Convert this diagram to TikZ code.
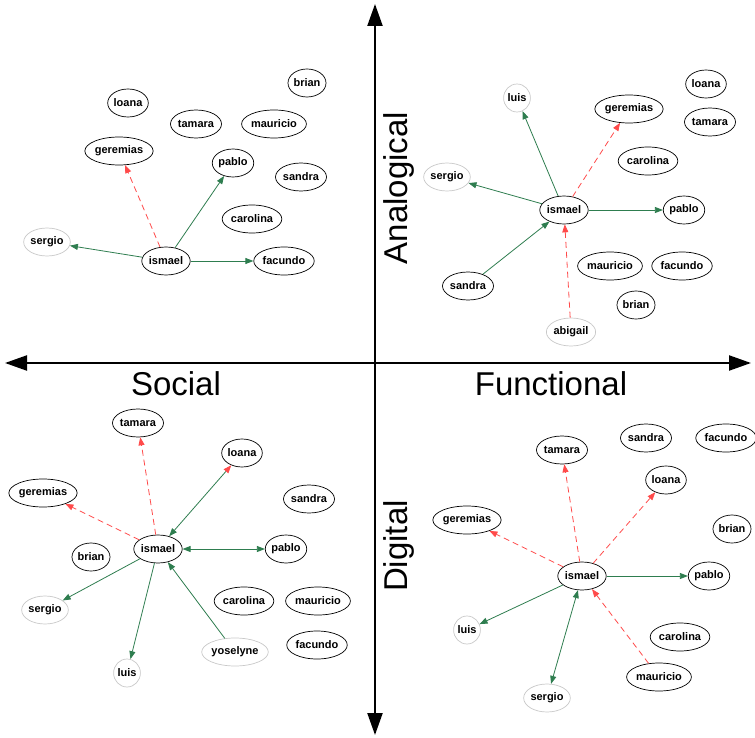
\documentclass[tikz,border=0pt]{standalone}
\usepackage{fontspec}
\setmainfont{Liberation Sans}
\usetikzlibrary{arrows.meta,shapes.geometric}
\definecolor{edgegreen}{HTML}{2E7D4F}
\definecolor{edgered}{HTML}{FF4A4A}
\definecolor{nodegray}{HTML}{C8C8C8}
\newcommand\qnodefont{\bfseries\fontsize{11}{13}\selectfont}
\newlength\qlen
\newcommand\qnode[4]{\settowidth{\qlen}{\qnodefont #4}\addtolength{\qlen}{21pt}%
  \node[#1, minimum width=\qlen] (#2) at (#3) {#4};}
\begin{document}
\begin{tikzpicture}[x=1pt,y=-1pt,
  pn/.style={ellipse, draw=black, line width=0.7pt, font=\qnodefont, inner xsep=0pt, inner ysep=1pt, minimum height=28pt},
  gn/.style={pn, draw=nodegray},
  ge/.style={draw=edgegreen, line width=0.8pt, -{Triangle[length=8pt,width=6pt]}},
  gd/.style={draw=edgegreen, line width=0.8pt, {Triangle[length=8pt,width=6pt]}-{Triangle[length=8pt,width=6pt]}},
  re/.style={draw=edgered, line width=0.8pt, dash pattern=on 6pt off 4pt, -{Triangle[length=8pt,width=6pt]}},
  axis/.style={line width=2.2pt, {Triangle[length=22pt,width=15pt]}-{Triangle[length=22pt,width=15pt]}},
  lbl/.style={font=\fontsize{33}{36}\selectfont, inner sep=0pt, anchor=base}
]
\useasboundingbox (0,0) rectangle (755,738);
% axes
\coordinate (axL) at (5,363);
\coordinate (axR) at (751,363);
\coordinate (axT) at (375,4);
\coordinate (axB) at (375,735);
\draw[axis] (axL) -- (axR);
\draw[axis] (axT) -- (axB);
\node[lbl] (social) at (176,395) {Social};
\node[lbl] (functional) at (551,395) {Functional};
\node[lbl, rotate=90] (analogical) at (407,188) {Analogical};
\node[lbl, rotate=90] (digital) at (407,546) {Digital};

% ---- top left
\qnode{pn}{a1brian}{307,83}{brian}
\qnode{pn}{a1loana}{128,103}{loana}
\qnode{pn}{a1tamara}{196,124}{tamara}
\qnode{pn}{a1mauricio}{274,124}{mauricio}
\qnode{pn}{a1geremias}{119,151}{geremias}
\qnode{pn}{a1pablo}{233,163}{pablo}
\qnode{pn}{a1sandra}{301,177}{sandra}
\qnode{pn}{a1carolina}{252,219}{carolina}
\qnode{gn}{a1sergio}{47,242}{sergio}
\qnode{pn}{a1ismael}{166,261}{ismael}
\qnode{pn}{a1facundo}{284,261}{facundo}
\draw[ge] (a1ismael) -- (a1sergio);
\draw[re] (a1ismael) -- (a1geremias);
\draw[ge] (a1ismael) -- (a1pablo);
\draw[ge] (a1ismael) -- (a1facundo);

% ---- top right
\qnode{gn}{a2luis}{517,98}{luis}
\qnode{pn}{a2loana}{706,84}{loana}
\qnode{pn}{a2geremias}{629,109}{geremias}
\qnode{pn}{a2tamara}{710,122}{tamara}
\qnode{pn}{a2carolina}{648,161}{carolina}
\qnode{gn}{a2sergio}{447,177}{sergio}
\qnode{pn}{a2ismael}{564,210}{ismael}
\qnode{pn}{a2pablo}{684,210}{pablo}
\qnode{pn}{a2mauricio}{610,266}{mauricio}
\qnode{pn}{a2facundo}{682,266}{facundo}
\qnode{pn}{a2sandra}{468,286}{sandra}
\qnode{pn}{a2brian}{636,305}{brian}
\qnode{gn}{a2abigail}{571,332}{abigail}
\draw[ge] (a2ismael) -- (a2luis);
\draw[ge] (a2ismael) -- (a2sergio);
\draw[re] (a2ismael) -- (a2geremias);
\draw[ge] (a2ismael) -- (a2pablo);
\draw[ge] (a2sandra) -- (a2ismael);
\draw[re] (a2abigail) -- (a2ismael);

% ---- bottom left
\qnode{pn}{a3tamara}{138,423}{tamara}
\qnode{pn}{a3loana}{242,453}{loana}
\qnode{pn}{a3geremias}{43,493}{geremias}
\qnode{pn}{a3sandra}{309,499}{sandra}
\qnode{pn}{a3ismael}{158,549}{ismael}
\qnode{pn}{a3pablo}{286,549}{pablo}
\qnode{pn}{a3brian}{91,557}{brian}
\qnode{pn}{a3carolina}{244,601}{carolina}
\qnode{pn}{a3mauricio}{318,601}{mauricio}
\qnode{gn}{a3sergio}{45,610}{sergio}
\qnode{pn}{a3facundo}{317,645}{facundo}
\qnode{gn}{a3yoselyne}{235,652}{yoselyne}
\qnode{gn}{a3luis}{127,673}{luis}
\draw[re] (a3ismael) -- (a3tamara);
\draw[re] (a3ismael) -- (a3geremias);
\draw[draw=edgegreen, line width=0.8pt, {Triangle[length=8pt,width=6pt]}-{Triangle[length=8pt,width=6pt,color=edgered]}] (a3ismael) -- (a3loana);
\draw[gd] (a3ismael) -- (a3pablo);
\draw[ge] (a3ismael) -- (a3sergio);
\draw[ge] (a3ismael) -- (a3luis);
\draw[ge] (a3yoselyne) -- (a3ismael);

% ---- bottom right
\qnode{pn}{a4sandra}{646,438}{sandra}
\qnode{pn}{a4facundo}{726,438}{facundo}
\qnode{pn}{a4tamara}{562,450}{tamara}
\qnode{pn}{a4loana}{666,480}{loana}
\qnode{pn}{a4geremias}{467,520}{geremias}
\qnode{pn}{a4brian}{732,529}{brian}
\qnode{pn}{a4ismael}{582,576}{ismael}
\qnode{pn}{a4pablo}{709,576}{pablo}
\qnode{gn}{a4luis}{467,630}{luis}
\qnode{pn}{a4carolina}{680,637}{carolina}
\qnode{pn}{a4mauricio}{659,677}{mauricio}
\qnode{gn}{a4sergio}{547,698}{sergio}
\draw[re] (a4ismael) -- (a4tamara);
\draw[re] (a4ismael) -- (a4loana);
\draw[re] (a4ismael) -- (a4geremias);
\draw[ge] (a4ismael) -- (a4pablo);
\draw[ge] (a4ismael) -- (a4luis);
\draw[gd] (a4ismael) -- (a4sergio);
\draw[re] (a4mauricio) -- (a4ismael);
\end{tikzpicture}
\end{document}
